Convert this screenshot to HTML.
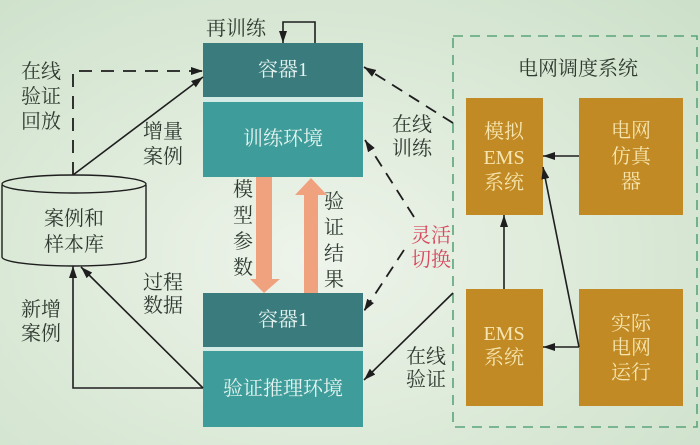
<!DOCTYPE html>
<html><head><meta charset="utf-8"><style>
html,body{margin:0;padding:0;}
body{width:700px;height:445px;overflow:hidden;background:radial-gradient(ellipse 75% 80% at 45% 58%,#eef4eb 0%,#dfebdb 45%,#cde1ca 100%);}
svg{display:block;}
text{font-family:"Liberation Serif","Noto Serif CJK SC","Noto Sans CJK SC",serif;dominant-baseline:central;text-anchor:middle;}
.d{fill:#2e3a30;font-size:20px;}
.w{fill:#e6f3f0;font-size:20px;}
.y{fill:#f6e5ae;font-size:20px;}
.r{fill:#d8495e;font-size:20px;}
</style></head><body>
<svg width="700" height="445" viewBox="0 0 700 445">
<defs>
<marker id="a" viewBox="0 0 12 8" refX="12" refY="4" markerWidth="12" markerHeight="8" markerUnits="userSpaceOnUse" orient="auto">
<path d="M0,0 L12,4 L0,8 Z" fill="#1e1e1e"/></marker>
</defs>

<!-- green dashed system box -->
<rect x="453" y="36" width="244" height="391" fill="none" stroke="#5aa57a" stroke-width="1.6" stroke-dasharray="10,7"/>

<!-- top container -->
<rect x="203" y="43" width="160" height="54" fill="#3a7c7d"/>
<rect x="203" y="97" width="160" height="5" fill="#d3ebe4"/>
<rect x="203" y="102" width="160" height="75" fill="#3e9d9a"/>
<text class="w" x="283" y="70" font-size="19">容器1</text>
<text class="w" x="283" y="139">训练环境</text>

<!-- bottom container -->
<rect x="203" y="293" width="160" height="54" fill="#3a7c7d"/>
<rect x="203" y="347" width="160" height="4" fill="#d3ebe4"/>
<rect x="203" y="351" width="160" height="76" fill="#3e9d9a"/>
<text class="w" x="283" y="320" font-size="19">容器1</text>
<text class="w" x="283" y="389" font-size="21">验证推理环境</text>

<!-- retrain loop -->
<text class="d" x="236" y="29">再训练</text>
<polyline points="315,43 315,22 283,22 283,43" fill="none" stroke="#1e1e1e" stroke-width="1.6" marker-end="url(#a)"/>

<!-- cylinder -->
<path d="M2,185 L2,257 A72,9 0 0 0 146,257 L146,185" fill="none" stroke="#1e1e1e" stroke-width="1.4"/>
<ellipse cx="74" cy="184" rx="72" ry="9" fill="none" stroke="#1e1e1e" stroke-width="1.4"/>
<text class="d" x="74" y="219" font-size="21">案例和</text>
<text class="d" x="74" y="245" font-size="21">样本库</text>

<!-- left labels -->
<text class="d" x="41" y="72" font-size="21">在线</text>
<text class="d" x="41" y="97" font-size="21">验证</text>
<text class="d" x="41" y="122" font-size="21">回放</text>
<text class="d" x="163" y="132">增量</text>
<text class="d" x="163" y="157">案例</text>
<text class="d" x="41" y="310">新增</text>
<text class="d" x="41" y="334">案例</text>
<text class="d" x="163" y="283">过程</text>
<text class="d" x="163" y="306">数据</text>

<!-- replay dashed -->
<polyline points="73,175 73,71 203,71" fill="none" stroke="#1e1e1e" stroke-width="1.8" stroke-dasharray="13,9" marker-end="url(#a)"/>
<!-- incremental cases -->
<line x1="73" y1="175" x2="203" y2="77" stroke="#1e1e1e" stroke-width="1.6" marker-end="url(#a)"/>
<!-- bottom left arrows -->
<polyline points="203,388 73,388 73,266" fill="none" stroke="#1e1e1e" stroke-width="1.6" marker-end="url(#a)"/>
<line x1="203" y1="388" x2="81" y2="267" stroke="#1e1e1e" stroke-width="1.6" marker-end="url(#a)"/>

<!-- orange arrows -->
<path d="M256,177 L272,177 L272,279 L280,279 L264,293 L250,279 L256,279 Z" fill="#f0a27e"/>
<path d="M304,293 L318,293 L318,195 L327,195 L311,178 L295,195 L304,195 Z" fill="#f0a27e"/>
<text class="d" x="243" y="190">模</text>
<text class="d" x="243" y="216">型</text>
<text class="d" x="243" y="242">参</text>
<text class="d" x="243" y="268">数</text>
<text class="d" x="334" y="202">验</text>
<text class="d" x="334" y="228">证</text>
<text class="d" x="334" y="254">结</text>
<text class="d" x="334" y="280">果</text>

<!-- right side dashed arrows -->
<line x1="453" y1="123" x2="364" y2="67" stroke="#1e1e1e" stroke-width="1.8" stroke-dasharray="12,8" marker-end="url(#a)"/>
<line x1="414" y1="217" x2="365" y2="140" stroke="#1e1e1e" stroke-width="1.8" stroke-dasharray="12,8" marker-end="url(#a)"/>
<line x1="404" y1="250" x2="364" y2="311" stroke="#1e1e1e" stroke-width="1.8" stroke-dasharray="12,8" marker-end="url(#a)"/>
<line x1="453" y1="293" x2="364" y2="380" stroke="#1e1e1e" stroke-width="1.6" marker-end="url(#a)"/>
<text class="d" x="412" y="125">在线</text>
<text class="d" x="412" y="149">训练</text>
<text class="r" x="431" y="236">灵活</text>
<text class="r" x="431" y="260">切换</text>
<text class="d" x="426" y="357">在线</text>
<text class="d" x="426" y="380">验证</text>

<!-- system -->
<text class="d" x="578" y="69" font-size="21">电网调度系统</text>
<rect x="466" y="98" width="77" height="117" fill="#c18a25"/>
<rect x="579" y="98" width="104" height="117" fill="#c18a25"/>
<rect x="466" y="289" width="77" height="117" fill="#c18a25"/>
<rect x="579" y="289" width="104" height="117" fill="#c18a25"/>
<text class="y" x="504" y="132">模拟</text>
<text class="y" x="504" y="158">EMS</text>
<text class="y" x="504" y="183">系统</text>
<text class="y" x="631" y="131">电网</text>
<text class="y" x="631" y="157">仿真</text>
<text class="y" x="631" y="182">器</text>
<text class="y" x="504" y="334">EMS</text>
<text class="y" x="504" y="358">系统</text>
<text class="y" x="631" y="324">实际</text>
<text class="y" x="631" y="348">电网</text>
<text class="y" x="631" y="373">运行</text>

<line x1="579" y1="156" x2="543" y2="156" stroke="#1e1e1e" stroke-width="1.6" marker-end="url(#a)"/>
<line x1="504" y1="289" x2="504" y2="215" stroke="#1e1e1e" stroke-width="1.6" marker-end="url(#a)"/>
<line x1="579" y1="347" x2="543" y2="347" stroke="#1e1e1e" stroke-width="1.6" marker-end="url(#a)"/>
<line x1="579" y1="347" x2="543" y2="167" stroke="#1e1e1e" stroke-width="1.6" marker-end="url(#a)"/>
</svg>
</body></html>
